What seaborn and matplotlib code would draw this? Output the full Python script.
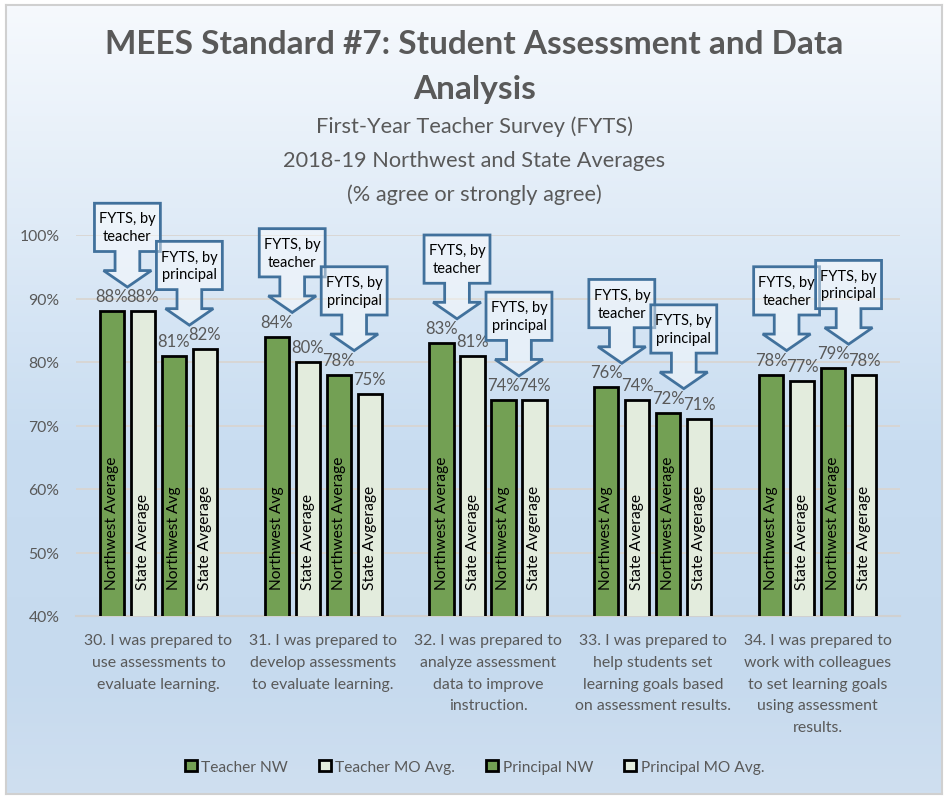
import matplotlib.pyplot as plt
import numpy as np
import pandas as pd
import seaborn as sns
from matplotlib.colors import LinearSegmentedColormap
from matplotlib.patches import Polygon

QUESTIONS = [
    "30. I was prepared to\nuse assessments to\nevaluate learning.",
    "31. I was prepared to\ndevelop assessments\nto evaluate learning.",
    "32. I was prepared to\nanalyze assessment\ndata to improve\ninstruction.",
    "33. I was prepared to\nhelp students set\nlearning goals based\non assessment results.",
    "34. I was prepared to\nwork with colleagues\nto set learning goals\nusing assessment\nresults.",
]
SERIES = ["Teacher NW", "Teacher MO Avg.", "Principal NW", "Principal MO Avg."]
TEACHER_NW = [0.88, 0.84, 0.83, 0.76, 0.78]
TEACHER_MO = [0.88, 0.80, 0.81, 0.74, 0.77]
PRINCIPAL_NW = [0.81, 0.78, 0.74, 0.72, 0.79]
PRINCIPAL_MO = [0.82, 0.75, 0.74, 0.71, 0.78]

# text written inside each bar, per question (same order as SERIES)
BAR_NAMES = [
    ["Northwest Average", "State Average", "Northwest Avg", "State Avgerage"],
    ["Northwest Avg", "State Average", "Northwest Average", "State Avgerage"],
    ["Northwest Average", "State Average", "Northwest Avg", "State Avgerage"],
    ["Northwest Avg", "State Average", "Northwest Average", "State Avgerage"],
    ["Northwest Avg", "State Average", "Northwest Average", "State Avgerage"],
]
CALLOUTS = ["FYTS, by\nteacher", "FYTS, by\nprincipal"]

TITLE = "MEES Standard #7: Student Assessment and Data\nAnalysis"
SUBTITLE = "First-Year Teacher Survey (FYTS)\n2018-19 Northwest and State Averages\n(% agree or strongly agree)"
Y_TICKS = [0.4, 0.5, 0.6, 0.7, 0.8, 0.9, 1.0]

DARK_GREEN = "#70AD47"
LIGHT_GREEN = "#E2EFDA"
GREY_TEXT = "#595959"
PALETTE = dict(zip(SERIES, [DARK_GREEN, LIGHT_GREEN, DARK_GREEN, LIGHT_GREEN]))

sns.set_theme(style="white")
plt.rcParams["font.family"] = ["Lato", "DejaVu Sans"]

rows = []
for series, values in zip(SERIES, [TEACHER_NW, TEACHER_MO, PRINCIPAL_NW, PRINCIPAL_MO]):
    for question, value in zip(QUESTIONS, values):
        rows.append({"question": question, "series": series, "value": value})
df = pd.DataFrame(rows)

fig = plt.figure(figsize=(9.49, 8.04), dpi=100)

# gradient background with thin grey frame
bg = fig.add_axes([6 / 949, 1 - 795 / 804, 936 / 949, 789 / 804], zorder=-5)
grad_cmap = LinearSegmentedColormap.from_list(
    "bg", [(0.0, "#F6F9FD"), (0.55, "#C9DDF1"), (0.85, "#C6DAEE"), (1.0, "#CFDFF0")]
)
bg.imshow(np.linspace(0, 1, 256).reshape(-1, 1), aspect="auto", cmap=grad_cmap,
          extent=[0, 1, 0, 1], origin="upper")
bg.set_xticks([])
bg.set_yticks([])
for spine in bg.spines.values():
    spine.set_color("#D0D0D0")
    spine.set_linewidth(1.5)

ax = fig.add_axes([76 / 949, 1 - 617 / 804, 824 / 949, 381 / 804])
ax.set_facecolor("none")
sns.barplot(data=df, x="question", y="value", hue="series", hue_order=SERIES,
            palette=PALETTE, width=0.752, gap=0.22, edgecolor="black", linewidth=2,
            errorbar=None, ax=ax, zorder=3)

ax.set_ylim(0.4, 1.0)
ax.set_xlim(-0.5, len(QUESTIONS) - 0.5)
ax.set_yticks(Y_TICKS)
ax.set_yticklabels([f"{int(round(t * 100))}%" for t in Y_TICKS])
ax.yaxis.grid(True, color="#D9D4CF", linewidth=1.2, zorder=0)
ax.set_axisbelow(True)
for side in ["top", "right", "left"]:
    ax.spines[side].set_visible(False)
ax.spines["bottom"].set_color("#D0D0D0")
ax.spines["bottom"].set_linewidth(1.5)
ax.tick_params(axis="y", length=0, pad=12, labelsize=11.3, labelcolor=GREY_TEXT)
ax.tick_params(axis="x", length=0, pad=12, labelsize=11.4, labelcolor=GREY_TEXT)
for lab in ax.get_xticklabels():
    lab.set_linespacing(1.72)
ax.set_xlabel("")
ax.set_ylabel("")

# value labels and names inside the bars
for s, container in enumerate(ax.containers):
    for q, bar in enumerate(container):
        xc = bar.get_x() + bar.get_width() / 2
        h = bar.get_height()
        ax.annotate(f"{int(round(h * 100))}%", (xc, h), xytext=(0, 5),
                    textcoords="offset points", ha="center", va="bottom",
                    fontsize=12, color=GREY_TEXT, zorder=5)
        ax.text(xc, 0.443, BAR_NAMES[q][s], rotation=90, ha="center", va="bottom",
                fontsize=11.2, color="black", zorder=5)

# down-arrow callouts over the teacher pair and the principal pair
box_w, box_h = 0.20, 0.076
stem_w, stem_h = 0.075, 0.03
head_w, head_h = 0.145, 0.026
for q in range(len(QUESTIONS)):
    for p, label in enumerate(CALLOUTS):
        b1 = ax.containers[2 * p][q]
        b2 = ax.containers[2 * p + 1][q]
        xc = (b1.get_x() + b2.get_x() + b2.get_width()) / 2
        tip = max(b1.get_height(), b2.get_height()) + 0.038
        y_head = tip + head_h
        y_box = y_head + stem_h
        y_top = y_box + box_h
        pts = [
            (xc - box_w, y_top), (xc + box_w, y_top), (xc + box_w, y_box),
            (xc + stem_w, y_box), (xc + stem_w, y_head), (xc + head_w, y_head),
            (xc, tip), (xc - head_w, y_head), (xc - stem_w, y_head),
            (xc - stem_w, y_box), (xc - box_w, y_box),
        ]
        ax.add_patch(Polygon(pts, closed=True, facecolor=(1, 1, 1, 0.45),
                             edgecolor="#41719C", linewidth=2, clip_on=False, zorder=6))
        ax.text(xc, y_box + box_h / 2, label, ha="center", va="center", fontsize=10.5,
                color="black", linespacing=1.35, zorder=7, clip_on=False)

# legend
handles, labels = ax.get_legend_handles_labels()
ax.legend_.remove()
for hnd in handles:
    hnd.set_edgecolor("black")
    hnd.set_linewidth(2)
fig.legend(handles, labels, loc="center", bbox_to_anchor=(0.5, 1 - 768 / 804), ncol=4,
           frameon=False, fontsize=11.2, handlelength=0.75, handleheight=0.75,
           handletextpad=0.3, columnspacing=2.0, labelcolor=GREY_TEXT)

fig.text(0.5, 1 - 67 / 804, TITLE, ha="center", va="center", fontsize=24,
         fontweight="bold", color=GREY_TEXT, linespacing=1.68)
fig.text(0.5, 1 - 161 / 804, SUBTITLE, ha="center", va="center", fontsize=15.7,
         color=GREY_TEXT, linespacing=1.85)

fig.savefig("out.png", dpi=100)
